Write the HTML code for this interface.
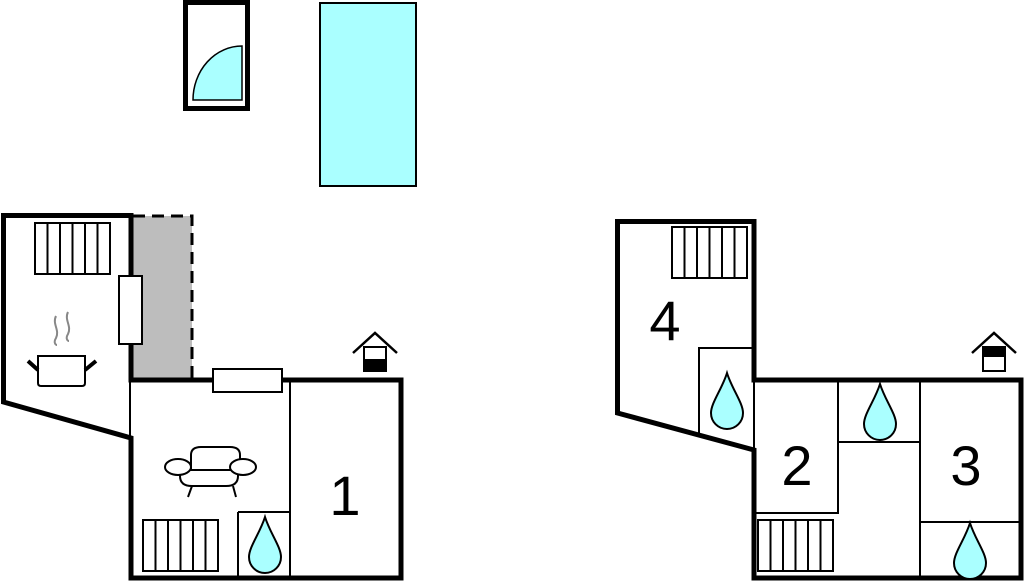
<!DOCTYPE html>
<html><head><meta charset="utf-8"><style>html,body{margin:0;padding:0;background:#fff}svg{display:block}</style></head><body>
<svg width="1024" height="582" viewBox="0 0 1024 582" xmlns="http://www.w3.org/2000/svg" font-family="Liberation Sans, sans-serif">
<defs>
<g id="rad"><rect x="0" y="0" width="75" height="51" fill="#fff" stroke="#000" stroke-width="2"/><path d="M12.5 0V51M25 0V51M37.5 0V51M50 0V51M62.5 0V51" stroke="#000" stroke-width="2"/></g>
<path id="drop" d="M0 0 C5 16 16 30 16 40 A16 16 0 0 1 -16 40 C-16 30 -5 16 0 0Z" fill="#aaffff" stroke="#000" stroke-width="2"/>
<g id="house"><path d="M0 20 L22 0 L44 20" fill="none" stroke="#000" stroke-width="2.5"/><rect x="11" y="14" width="22" height="24" fill="#fff" stroke="#000" stroke-width="2"/></g>
</defs>
<!-- top -->
<rect x="185.5" y="2.5" width="62" height="106" fill="#fff" stroke="#000" stroke-width="5"/>
<path d="M193 100 A49 54 0 0 1 242 46 V100Z" fill="#aaffff" stroke="#000" stroke-width="1.5"/>
<rect x="320" y="3" width="96" height="183" fill="#aaffff" stroke="#000" stroke-width="2"/>
<!-- left building -->
<rect x="133" y="216" width="59" height="164" fill="#bdbdbd"/>
<path d="M133 216 H192 V380" fill="none" stroke="#000" stroke-width="3" stroke-dasharray="12 7"/>
<path d="M290 380 V578 M238 512 H290 V578 M238 512 V578" stroke="#000" stroke-width="2" fill="none"/>
<path d="M130 380 V438" stroke="#000" stroke-width="2"/>
<path d="M3.5 215.5 H131 V380 H401 V578 H131 V438 L3.5 402 Z" fill="none" stroke="#000" stroke-width="5" stroke-linejoin="miter"/>
<rect x="119" y="276" width="23" height="68" fill="#fff" stroke="#000" stroke-width="2"/>
<rect x="213" y="369" width="69" height="23" fill="#fff" stroke="#000" stroke-width="2"/>
<use href="#rad" x="35" y="223"/>
<use href="#rad" x="143" y="520"/>
<use href="#drop" x="265" y="517"/>
<!-- pot -->
<path d="M56 316 c-4 8 4 14 0 22 c-3 5 0 7 1 7 M68 312 c-4 8 4 14 0 22 c-3 5 0 7 1 7" stroke="#888" stroke-width="2" fill="none"/>
<path d="M38 356 H85 V383 q0 3 -3 3 H41 q-3 0 -3 -3Z" fill="#fff" stroke="#000" stroke-width="2"/>
<path d="M28 361 L38 370 M96 361 L85 370" stroke="#000" stroke-width="4"/>
<!-- sofa -->
<path d="M191 470 V455 q0 -8 10 -8 H230 q10 0 10 8 V470" fill="#fff" stroke="#000" stroke-width="2"/>
<path d="M180 470 V476 q0 10 12 10 H226 q12 0 12 -10 V470Z" fill="#fff" stroke="#000" stroke-width="2"/>
<ellipse cx="178" cy="467" rx="13" ry="8" fill="#fff" stroke="#000" stroke-width="2"/>
<ellipse cx="243" cy="467" rx="13" ry="8" fill="#fff" stroke="#000" stroke-width="2"/>
<path d="M192 486 L188 497 M233 486 L236 497" stroke="#000" stroke-width="2"/>
<text x="345" y="515" font-size="56" text-anchor="middle">1</text>
<use href="#house" x="353" y="333"/>
<rect x="364" y="359" width="22" height="12" fill="#000"/>
<!-- right building -->
<path d="M754 380 V578 M699 435 V348 H754 M838 380 V513 H754 M838 442 H920 M920 380 V578 M920 522 H1021" fill="none" stroke="#000" stroke-width="2"/>
<path d="M617.5 221.5 H754 V380 H1021 V578 H754 V450 L617.5 413 Z" fill="none" stroke="#000" stroke-width="5"/>
<use href="#rad" x="672" y="227"/>
<use href="#rad" x="758" y="520"/>
<use href="#drop" x="727" y="373"/>
<use href="#drop" x="880" y="384"/>
<use href="#drop" x="970" y="523"/>
<text x="665" y="340" font-size="56" text-anchor="middle">4</text>
<text x="797" y="485" font-size="56" text-anchor="middle">2</text>
<text x="966" y="485" font-size="56" text-anchor="middle">3</text>
<use href="#house" x="972" y="333"/>
<rect x="983" y="347" width="22" height="10" fill="#000"/>
</svg>
</body></html>
